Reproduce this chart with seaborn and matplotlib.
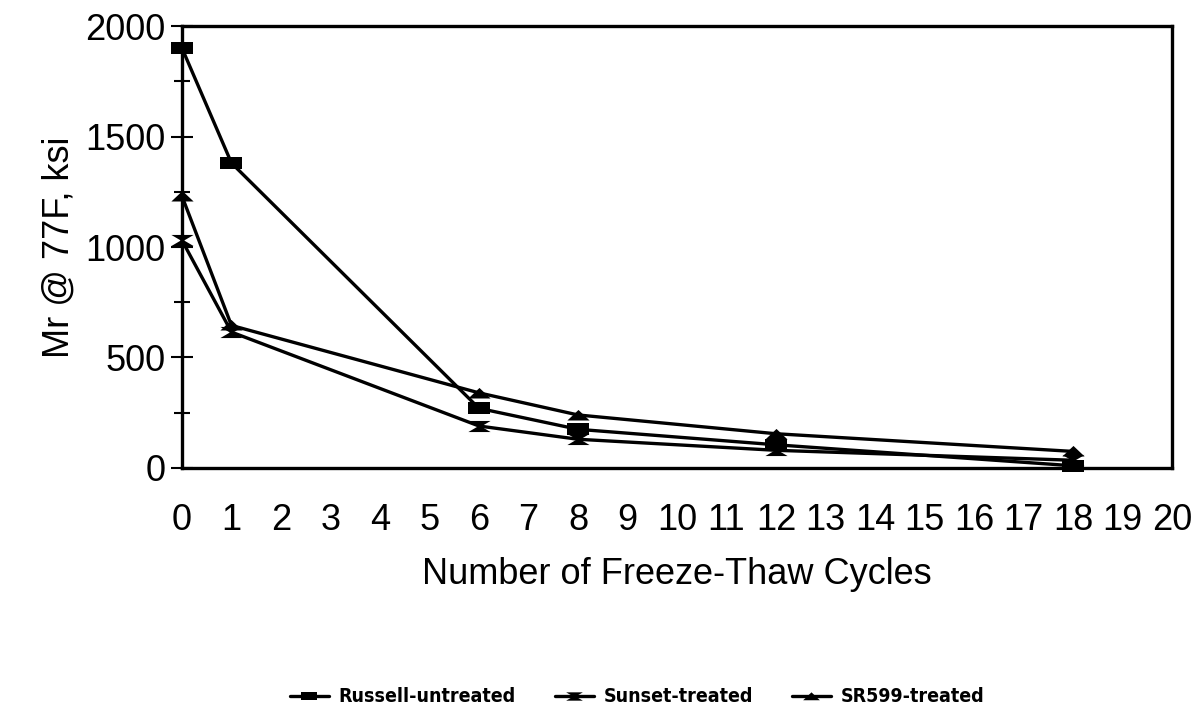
import matplotlib
matplotlib.use("Agg")
import matplotlib.pyplot as plt
from matplotlib.markers import MarkerStyle
from matplotlib import font_manager
import seaborn as sns
import pandas as pd
import numpy as np

# Datos
ciclos = [0, 1, 6, 8, 12, 18]
russell = [1900, 1380, 270, 175, 105, 10]
sunset = [1030, 615, 190, 130, 80, 35]
sr599 = [1230, 645, 340, 240, 155, 75]
series = ["Russell-untreated", "Sunset-treated", "SR599-treated"]

sns.set_style("white")
plt.rcParams["font.family"] = ["Liberation Sans", "DejaVu Sans"]
plt.rcParams["text.color"] = "black"
plt.rcParams["axes.labelcolor"] = "black"
plt.rcParams["xtick.color"] = "black"
plt.rcParams["ytick.color"] = "black"

# Fuente estrecha para la leyenda, si existe
nombres = {f.name for f in font_manager.fontManager.ttflist}
if "Liberation Sans Narrow" in nombres:
    fuente_leyenda = {"family": "Liberation Sans Narrow", "weight": "bold", "size": 18}
elif "DejaVu Sans Condensed" in nombres:
    fuente_leyenda = {"family": "DejaVu Sans Condensed", "weight": "bold", "size": 15}
else:
    fuente_leyenda = {"family": "DejaVu Sans", "stretch": "condensed", "weight": "bold", "size": 14}

# Marcadores "estirados" en horizontal como en la imagen original
cuadrado = MarkerStyle([(-1, -0.5), (1, -0.5), (1, 0.5), (-1, 0.5), (-1, -0.5)])
lazo = MarkerStyle([(-1, 0.5), (1, 0.5), (0.15, 0), (1, -0.5), (-1, -0.5), (-0.15, 0), (-1, 0.5)])
triangulo = MarkerStyle([(-1, -0.45), (1, -0.45), (0, 0.5), (-1, -0.45)])

df = pd.DataFrame({
    "ciclos": ciclos * 3,
    "mr": russell + sunset + sr599,
    "serie": [s for s in series for _ in ciclos],
})

fig, ax = plt.subplots(figsize=(12.02, 7.17), dpi=100)
fig.subplots_adjust(left=0.1514, right=0.975, top=0.9637, bottom=0.3473)

marcadores = {series[0]: cuadrado, series[1]: lazo, series[2]: triangulo}
for s in series:
    sub = df[df["serie"] == s]
    sns.lineplot(data=sub, x="ciclos", y="mr", ax=ax, color="black", linewidth=2.4,
                 marker=marcadores[s], markersize=16, markeredgewidth=0,
                 label=s, clip_on=False, zorder=3)

ax.set_xlim(0, 20)
ax.set_ylim(0, 2000)
ax.set_xticks(range(0, 21))
ax.set_yticks(range(0, 2001, 500))
ax.set_yticks(range(0, 2001, 250), minor=True)
ax.tick_params(axis="x", length=0, pad=25, labelsize=26)
ax.tick_params(axis="y", which="major", direction="inout", length=16, width=1.5,
               labelsize=26, pad=4, left=True)
ax.tick_params(axis="y", which="minor", direction="inout", length=12, width=1.5, left=True)

for sp in ax.spines.values():
    sp.set_color("black")
    sp.set_linewidth(2.4)
    sp.set_visible(True)

ax.set_xlabel("Number of Freeze-Thaw Cycles", fontsize=26, labelpad=14)
ax.set_ylabel("Mr @ 77F, ksi", fontsize=26, labelpad=6)

handles, labels = ax.get_legend_handles_labels()
ax.get_legend().remove()
fig.legend(handles, labels, loc="center", bbox_to_anchor=(0.53, 0.028), ncol=3, frameon=False,
           prop=fuente_leyenda, markerscale=0.75,
           handlelength=2.0, columnspacing=2.0, handletextpad=0.5)

fig.savefig("out.png", dpi=100, facecolor="white")
